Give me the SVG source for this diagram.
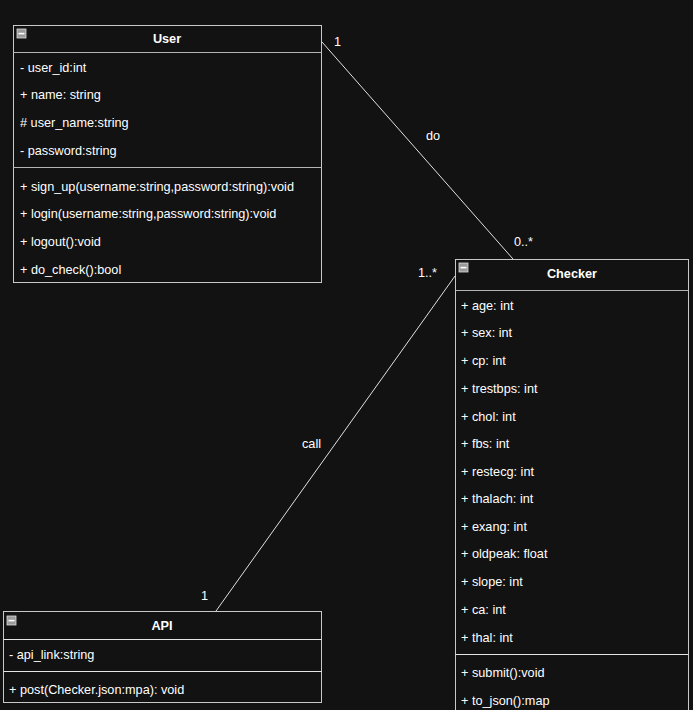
<svg xmlns="http://www.w3.org/2000/svg" width="693" height="710" viewBox="0 0 693 710">
<style>
.box{fill:#121212;stroke:#c8c8c8;stroke-width:1}
.sep{stroke:#b4b4b4;stroke-width:1}
.sep2{stroke:#e6e6e6;stroke-width:1}
text{font-family:"Liberation Sans",Arial,sans-serif;font-size:12.7px;fill:#ffffff}
.hd{font-weight:bold;text-anchor:middle}
.conn{stroke:#e0e0e0;stroke-width:1;fill:none}
</style>
<defs>
<g id="mini"><rect x="0" y="0" width="9" height="9" fill="#9a9a9a" stroke="#dddddd" stroke-width="0.8"/><rect x="1.5" y="3.8" width="6" height="1.6" fill="#ffffff"/></g>
</defs>
<rect width="693" height="710" fill="#121212"/>
<g id="connectors">
<line class="conn" x1="322" y1="42" x2="513" y2="259"/>
<line class="conn" x1="455" y1="276" x2="216" y2="611"/>
<text x="334" y="46">1</text>
<text x="426" y="140">do</text>
<text x="514" y="246">0..*</text>
<text x="418" y="277">1..*</text>
<text x="302" y="448">call</text>
<text x="201" y="600">1</text>
</g>
<g id="User">
<rect class="box" x="13.5" y="25.5" width="308" height="257"/>
<use href="#mini" x="17" y="29"/>
<text class="hd" x="167" y="43">User</text>
<line class="sep" x1="13.5" y1="52.5" x2="321.5" y2="52.5"/>
<text x="20" y="72">- user_id:int</text>
<text x="20" y="99">+ name: string</text>
<text x="20" y="127"># user_name:string</text>
<text x="20" y="155">- password:string</text>
<line class="sep" x1="13.5" y1="167.5" x2="321.5" y2="167.5"/>
<text x="20" y="191">+ sign_up(username:string,password:string):void</text>
<text x="20" y="218">+ login(username:string,password:string):void</text>
<text x="20" y="246">+ logout():void</text>
<text x="20" y="274">+ do_check():bool</text>
</g>
<g id="Checker">
<rect class="box" x="455.5" y="259.5" width="233" height="460"/>
<use href="#mini" x="459" y="263"/>
<text class="hd" x="572" y="278">Checker</text>
<line class="sep" x1="455.5" y1="290.5" x2="688.5" y2="290.5"/>
<text x="461" y="310">+ age: int</text>
<text x="461" y="337">+ sex: int</text>
<text x="461" y="365">+ cp: int</text>
<text x="461" y="393">+ trestbps: int</text>
<text x="461" y="421">+ chol: int</text>
<text x="461" y="448">+ fbs: int</text>
<text x="461" y="476">+ restecg: int</text>
<text x="461" y="503">+ thalach: int</text>
<text x="461" y="531">+ exang: int</text>
<text x="461" y="558">+ oldpeak: float</text>
<text x="461" y="586">+ slope: int</text>
<text x="461" y="614">+ ca: int</text>
<text x="461" y="642">+ thal: int</text>
<line class="sep2" x1="455.5" y1="654.5" x2="688.5" y2="654.5"/>
<text x="461" y="677">+ submit():void</text>
<text x="461" y="705">+ to_json():map</text>
</g>
<g id="API">
<rect class="box" x="3.5" y="611.5" width="318" height="91"/>
<use href="#mini" x="7" y="616"/>
<text class="hd" x="162" y="630">API</text>
<line class="sep2" x1="3.5" y1="639.5" x2="321.5" y2="639.5"/>
<text x="9" y="659">- api_link:string</text>
<line class="sep2" x1="3.5" y1="671.5" x2="321.5" y2="671.5"/>
<text x="9" y="694">+ post(Checker.json:mpa): void</text>
</g>
</svg>
